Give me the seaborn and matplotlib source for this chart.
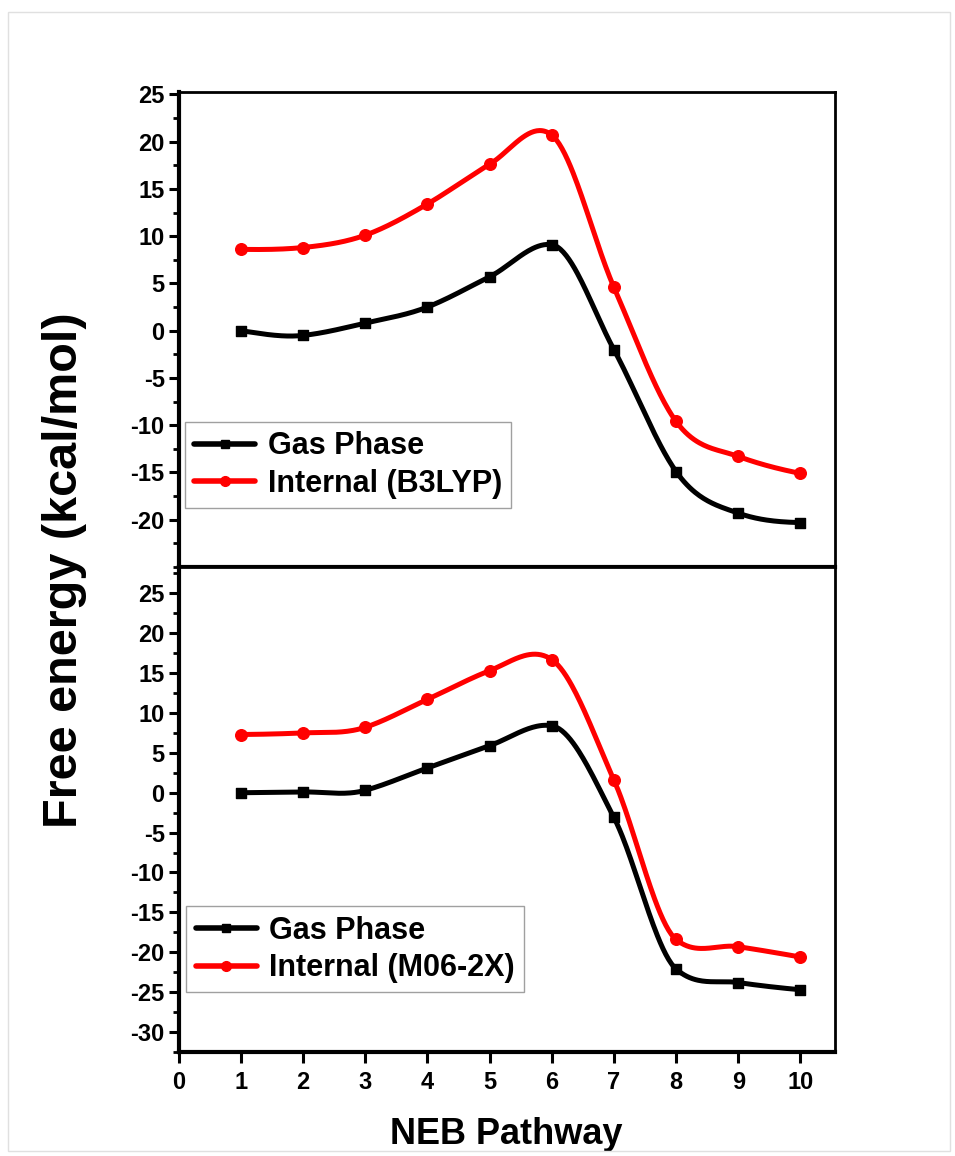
import numpy as np
import matplotlib
matplotlib.use("Agg")
import matplotlib.pyplot as plt
import seaborn as sns
from matplotlib.lines import Line2D
from matplotlib.ticker import MultipleLocator

# NEB images along the pathway
steps = [1, 2, 3, 4, 5, 6, 7, 8, 9, 10]

# top panel: B3LYP
gas_b3lyp = [0.0, -0.5, 0.8, 2.5, 5.7, 9.1, -2.0, -14.9, -19.3, -20.3]
internal_b3lyp = [8.6, 8.8, 10.1, 13.4, 17.6, 20.7, 4.6, -9.6, -13.3, -15.1]

# bottom panel: M06-2X
gas_m062x = [0.0, 0.1, 0.3, 3.1, 5.9, 8.4, -3.1, -22.1, -23.8, -24.7]
internal_m062x = [7.3, 7.5, 8.2, 11.7, 15.3, 16.7, 1.6, -18.4, -19.3, -20.6]

labels_top = ["Gas Phase", "Internal (B3LYP)"]
labels_bottom = ["Gas Phase", "Internal (M06-2X)"]


def spline_curve(x, y, n=400):
    # smooth connecting line through the points (Hermite curve, tangents are a
    # mix of Akima and Catmull-Rom) - only used for drawing, markers use the data
    x = np.asarray(x, float)
    y = np.asarray(y, float)
    m = np.diff(y) / np.diff(x)
    me = np.concatenate([[3 * m[0] - 2 * m[1], 2 * m[0] - m[1]], m,
                         [2 * m[-1] - m[-2], 3 * m[-1] - 2 * m[-2]]])
    t_ak = np.zeros(len(x))
    for i in range(len(x)):
        w1 = abs(me[i + 3] - me[i + 2])
        w2 = abs(me[i + 1] - me[i])
        if w1 + w2 < 1e-9:
            t_ak[i] = 0.5 * (me[i + 1] + me[i + 2])
        else:
            t_ak[i] = (w1 * me[i + 1] + w2 * me[i + 2]) / (w1 + w2)
    t_cr = np.gradient(y, x)
    t = 0.5 * (t_ak + t_cr)

    xs = np.linspace(x[0], x[-1], n)
    idx = np.clip(np.searchsorted(x, xs) - 1, 0, len(x) - 2)
    h = x[idx + 1] - x[idx]
    s = (xs - x[idx]) / h
    h00 = 2 * s ** 3 - 3 * s ** 2 + 1
    h10 = s ** 3 - 2 * s ** 2 + s
    h01 = -2 * s ** 3 + 3 * s ** 2
    h11 = s ** 3 - s ** 2
    ys = h00 * y[idx] + h10 * h * t[idx] + h01 * y[idx + 1] + h11 * h * t[idx + 1]
    return xs, ys


def draw_series(ax, y, color, marker, msize):
    xs, ys = spline_curve(steps, y)
    sns.lineplot(x=xs, y=ys, ax=ax, color=color, lw=3.6, sort=False)
    sns.scatterplot(x=steps, y=y, ax=ax, color=color, marker=marker, s=msize,
                    edgecolor=color, linewidth=1, zorder=5)


def style_axes(ax):
    for side in ["left", "bottom"]:
        ax.spines[side].set_linewidth(3)
    for side in ["top", "right"]:
        ax.spines[side].set_linewidth(2)
    for sp in ax.spines.values():
        sp.set_color("black")
    ax.yaxis.set_major_locator(MultipleLocator(5))
    ax.yaxis.set_minor_locator(MultipleLocator(2.5))
    ax.tick_params(axis="y", which="major", direction="out", length=7, width=2.2,
                   labelsize=17, pad=3, colors="black")
    ax.tick_params(axis="y", which="minor", direction="out", length=4, width=2,
                   colors="black")
    ax.tick_params(axis="x", which="major", direction="out", length=8, width=2.2,
                   labelsize=17, pad=6, colors="black")
    ax.set_xlim(0, 10.55)
    ax.xaxis.set_major_locator(MultipleLocator(1))


def add_legend(ax, labels, anchor):
    handles = [
        Line2D([], [], color="black", lw=4, marker="s", markersize=6),
        Line2D([], [], color="red", lw=4, marker="o", markersize=7),
    ]
    leg = ax.legend(handles, labels, loc="upper left", bbox_to_anchor=anchor,
                    frameon=True, fancybox=False, edgecolor="#888888",
                    prop={"weight": "bold", "size": 22}, handlelength=2.0,
                    handletextpad=0.4, labelspacing=0.25, borderpad=0.3,
                    borderaxespad=0)
    leg.get_frame().set_linewidth(1)
    for txt in leg.get_texts():
        txt.set_color("black")


sns.set_style("ticks")
plt.rcParams["font.family"] = ["Liberation Sans", "DejaVu Sans"]
plt.rcParams["axes.unicode_minus"] = False

fig = plt.figure(figsize=(9.55, 11.56), dpi=100)
ax1 = fig.add_axes([0.187, 0.5095, 0.687, 0.4105])
ax2 = fig.add_axes([0.187, 0.090, 0.687, 0.4195])

draw_series(ax1, gas_b3lyp, "black", "s", 55)
draw_series(ax1, internal_b3lyp, "red", "o", 70)
draw_series(ax2, gas_m062x, "black", "s", 55)
draw_series(ax2, internal_m062x, "red", "o", 70)

style_axes(ax1)
style_axes(ax2)
ax1.set_ylim(-25, 25.2)
ax2.set_ylim(-32.5, 28.3)
ax1.set_yticks([-20, -15, -10, -5, 0, 5, 10, 15, 20, 25])
ax2.set_yticks([-30, -25, -20, -15, -10, -5, 0, 5, 10, 15, 20, 25])
ax1.tick_params(axis="x", which="both", bottom=False, labelbottom=False)
for lab in ax1.get_yticklabels() + ax2.get_yticklabels() + ax2.get_xticklabels():
    lab.set_fontweight("bold")

ax1.set_xlabel("")
ax1.set_ylabel("")
ax2.set_ylabel("")
ax2.set_xlabel("NEB Pathway", fontsize=26, fontweight="bold", labelpad=16,
               color="black")

add_legend(ax1, labels_top, (0.01, 0.305))
add_legend(ax2, labels_bottom, (0.012, 0.30))

fig.text(0.068, 0.507, "Free energy (kcal/mol)", rotation=90, ha="center",
         va="center", fontsize=35, fontweight="bold", color="black")

# faint outer frame of the original figure
fig.patches.append(plt.Rectangle((0.008, 0.004), 0.987, 0.986, transform=fig.transFigure,
                                 fill=False, edgecolor="#e0e0e0", lw=1))

fig.savefig("out.png", dpi=100)
